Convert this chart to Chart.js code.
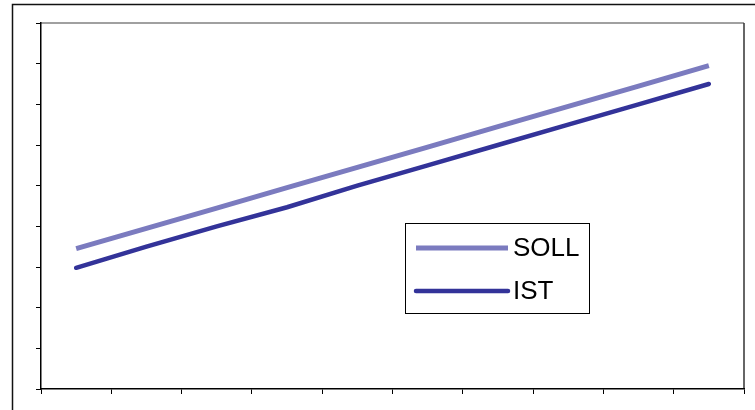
<!DOCTYPE html>
<html>
<head>
<meta charset="utf-8">
<script src="https://cdn.jsdelivr.net/npm/chart.js@4/dist/chart.umd.min.js"></script>
<style>
    html, body { margin: 0; padding: 0; background: #fff; }
    #wrap { width: 755px; height: 410px; }
</style>
</head>
<body>
<div id="wrap"><canvas id="chart" width="755" height="410"></canvas></div>
<script>
// Data
const categories = ['1', '2', '3', '4', '5', '6', '7', '8', '9', '10'];
const sollValues = [3.45, 3.95, 4.45, 4.95, 5.45, 5.95, 6.45, 6.95, 7.45, 7.95];
const istValues = [2.98, 3.5, 4.0, 4.47, 5.0, 5.5, 6.0, 6.5, 7.0, 7.5];
const yTicks = [0, 1, 2, 3, 4, 5, 6, 7, 8, 9];

// Colours
const SOLL_COLOR = '#7B7BBF';
const IST_COLOR = '#333399';
const FONT = "'Liberation Sans', Arial, sans-serif";

// Outer frame + grey top/right plot border
const framePlugin = {
    id: 'frame',
    beforeDraw(chart) {
        const ctx = chart.ctx;
        const a = chart.chartArea;
        ctx.save();
        ctx.fillStyle = '#fff';
        ctx.fillRect(0, 0, chart.width, chart.height);
        ctx.strokeStyle = '#111';
        ctx.lineWidth = 1.5;
        ctx.strokeRect(12.5, 4.5, 900, 600);
        ctx.strokeStyle = '#808080';
        ctx.beginPath();
        ctx.moveTo(a.left, a.top);
        ctx.lineTo(a.right, a.top);
        ctx.stroke();
        ctx.strokeStyle = '#333';
        ctx.beginPath();
        ctx.moveTo(a.right, a.top);
        ctx.lineTo(a.right, a.bottom);
        ctx.stroke();
        ctx.restore();
    }
};

// Boxed legend inside the plot
const legendBoxPlugin = {
    id: 'legendBox',
    afterDraw(chart) {
        const ctx = chart.ctx;
        ctx.save();
        ctx.strokeStyle = '#000';
        ctx.lineWidth = 1;
        ctx.strokeRect(405.5, 223.5, 184, 90);
        const rows = [248, 291];
        chart.data.datasets.forEach((ds, i) => {
            ctx.strokeStyle = ds.borderColor;
            ctx.lineWidth = ds.borderWidth;
            ctx.lineCap = ds.borderCapStyle;
            ctx.beginPath();
            ctx.moveTo(416, rows[i]);
            ctx.lineTo(508, rows[i]);
            ctx.stroke();
            ctx.fillStyle = '#000';
            ctx.font = '26px ' + FONT;
            ctx.textBaseline = 'alphabetic';
            ctx.fillText(ds.label, 513, rows[i] + 8);
        });
        ctx.restore();
    }
};

new Chart(document.getElementById('chart').getContext('2d'), {
    type: 'line',
    data: {
        labels: categories,
        datasets: [
            {
                label: 'SOLL',
                data: sollValues,
                borderColor: SOLL_COLOR,
                borderWidth: 5,
                borderCapStyle: 'butt',
                pointRadius: 0,
                tension: 0
            },
            {
                label: 'IST',
                data: istValues,
                borderColor: IST_COLOR,
                borderWidth: 4.5,
                borderCapStyle: 'round',
                pointRadius: 0,
                tension: 0
            }
        ]
    },
    options: {
        responsive: false,
        animation: false,
        layout: { padding: { left: 41, top: 23, right: 11, bottom: 21 } },
        plugins: {
            legend: { display: false },
            tooltip: { enabled: false }
        },
        scales: {
            x: {
                offset: true,
                grid: {
                    offset: true,
                    drawOnChartArea: false,
                    drawTicks: true,
                    tickLength: 5,
                    color: '#000',
                    lineWidth: 1
                },
                border: { display: true, color: '#000', width: 1.5 },
                ticks: { display: false },
                afterFit(scale) { scale.height = 0; }
            },
            y: {
                min: yTicks[0],
                max: yTicks[yTicks.length - 1],
                afterBuildTicks(scale) { scale.ticks = yTicks.map(v => ({ value: v })); },
                grid: {
                    drawOnChartArea: false,
                    drawTicks: true,
                    tickLength: 5,
                    color: '#000',
                    lineWidth: 1
                },
                border: { display: true, color: '#000', width: 1.5 },
                ticks: { display: false },
                afterFit(scale) { scale.width = 0; }
            }
        }
    },
    plugins: [framePlugin, legendBoxPlugin]
});
</script>
</body>
</html>
